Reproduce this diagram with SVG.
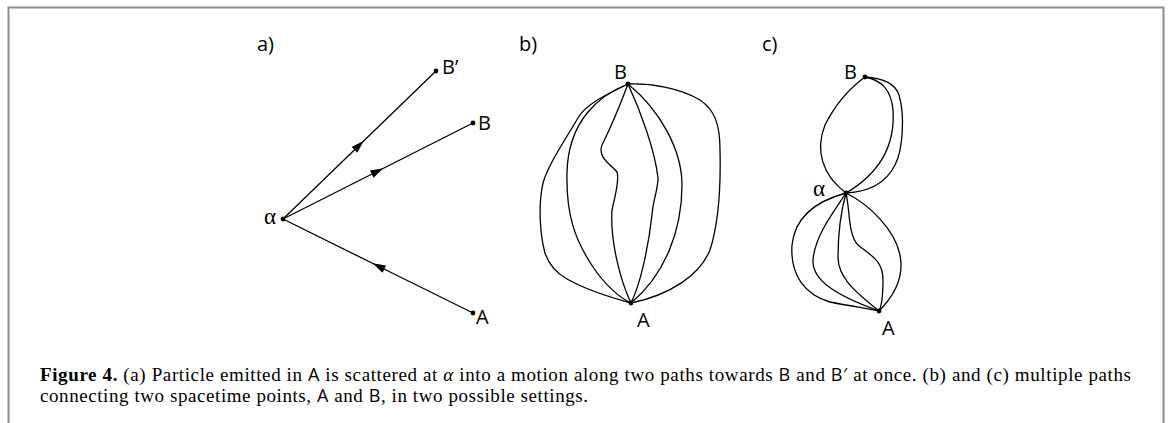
<svg xmlns="http://www.w3.org/2000/svg" width="1168" height="423" viewBox="0 0 1168 423">
<style>
.ln{fill:none;stroke:#000;stroke-width:1.3;stroke-linejoin:round;stroke-linecap:round}
.dot{fill:#000}
.lab{font-family:"Open Sans","Liberation Sans",sans-serif;font-size:20px;fill:#000}
.alpha{font-family:"Liberation Serif",serif;font-size:23px;fill:#000}
.cap{font-family:"Liberation Serif",serif;font-size:19px;fill:#000}
.capS{font-family:"Open Sans","Liberation Sans",sans-serif;font-size:18px}
</style>
<defs>
<marker id="arr" markerUnits="userSpaceOnUse" markerWidth="20" markerHeight="20" viewBox="-10 -10 20 20" refX="0" refY="0" orient="auto">
<path d="M6,0 L-7,-4 L-7,4 z" fill="#000"/>
</marker>
</defs>
<rect x="8.5" y="7.5" width="1155" height="430" fill="none" stroke="#8c8c8c" stroke-width="2"/>

<g id="panel-a">
<text class="lab" x="257" y="51">a)</text>
<g id="connectors-a">
<path class="ln" d="M283,219 L359.5,145 L436,71" marker-mid="url(#arr)"/>
<path class="ln" d="M283,219 L378,171 L473,123" marker-mid="url(#arr)"/>
<path class="ln" d="M473,313 L378,266 L283,219" marker-mid="url(#arr)"/>
</g>
<g id="a-alpha"><circle class="dot" cx="283" cy="219" r="2.4"/><text class="alpha" x="264" y="224">α</text></g>
<g id="a-Bp"><circle class="dot" cx="436" cy="71" r="2.4"/><text class="lab" x="442" y="74">B’</text></g>
<g id="a-B"><circle class="dot" cx="473" cy="123" r="2.4"/><text class="lab" x="478" y="130">B</text></g>
<g id="a-A"><circle class="dot" cx="473" cy="313" r="2.4"/><text class="lab" x="476" y="324">A</text></g>
</g>

<g id="panel-b">
<text class="lab" x="519" y="51">b)</text>
<g id="connectors-b">
<path class="ln" d="M628,84 C605,95 585,105 578,118 C565,140 548,165 543,183 C538,205 540,235 545,253 C550,268 560,275 567,279 C590,292 620,300 631,303"/>
<path class="ln" d="M628,84 C600,95 568,120 567,173 C566,215 575,240 593,267 C605,285 620,298 631,303"/>
<path class="ln" d="M628,84 C622,100 612,125 602,145 C597,158 612,165 617,172 C620,180 614,200 612,210 C610,240 620,280 631,303"/>
<path class="ln" d="M628,84 C640,110 655,150 658,178 C658,190 653,200 652,215 C648,250 640,285 631,303"/>
<path class="ln" d="M628,84 C660,110 682,150 682,185 C682,230 665,275 631,303"/>
<path class="ln" d="M628,84 C650,83 680,88 700,100 C715,110 720,125 720,150 C721,190 718,225 710,250 C700,275 670,295 631,303"/>
</g>
<g id="b-B"><circle class="dot" cx="628" cy="84" r="2.4"/><text class="lab" x="614" y="79">B</text></g>
<g id="b-A"><circle class="dot" cx="631" cy="303" r="2.4"/><text class="lab" x="637" y="327">A</text></g>
</g>

<g id="panel-c">
<text class="lab" x="762" y="51">c)</text>
<g id="connectors-c">
<path class="ln" d="M865,77 C850,88 835,105 825,125 C815,150 822,175 846,193"/>
<path class="ln" d="M865,77 C880,80 891,88 893,110 C895,140 885,170 846,193"/>
<path class="ln" d="M865,77 C880,78 895,82 899,95 C905,115 903,150 895,165 C885,185 865,192 846,193"/>
<path class="ln" d="M846,193 C820,200 795,215 792,245 C790,275 805,295 830,302 C850,306 870,309 879,311"/>
<path class="ln" d="M846,193 C835,210 815,235 813,260 C812,280 835,295 879,311"/>
<path class="ln" d="M846,193 C840,215 838,235 838,257 C838,280 860,295 879,311"/>
<path class="ln" d="M846,193 C850,210 848,235 858,245 C870,255 883,260 883,280 C883,295 882,305 879,311"/>
<path class="ln" d="M846,193 C870,205 895,230 900,255 C905,280 890,300 879,311"/>
</g>
<g id="c-B"><circle class="dot" cx="865" cy="77" r="2.4"/><text class="lab" x="844" y="79">B</text></g>
<g id="c-alpha"><circle class="dot" cx="846" cy="193" r="2.4"/><text class="alpha" x="813" y="196">α</text></g>
<g id="c-A"><circle class="dot" cx="879" cy="311" r="2.4"/><text class="lab" x="882" y="335">A</text></g>
</g>

<g id="caption">
<text class="cap" x="40" y="381" textLength="1091" lengthAdjust="spacing"><tspan font-weight="bold">Figure 4.</tspan> (a) Particle emitted in <tspan class="capS">A</tspan> is scattered at <tspan font-style="italic">α</tspan> into a motion along two paths towards <tspan class="capS">B</tspan> and <tspan class="capS">B′</tspan> at once. (b) and (c) multiple paths</text>
<text class="cap" x="40" y="402" textLength="548" lengthAdjust="spacing">connecting two spacetime points, <tspan class="capS">A</tspan> and <tspan class="capS">B</tspan>, in two possible settings.</text>
</g>
</svg>
